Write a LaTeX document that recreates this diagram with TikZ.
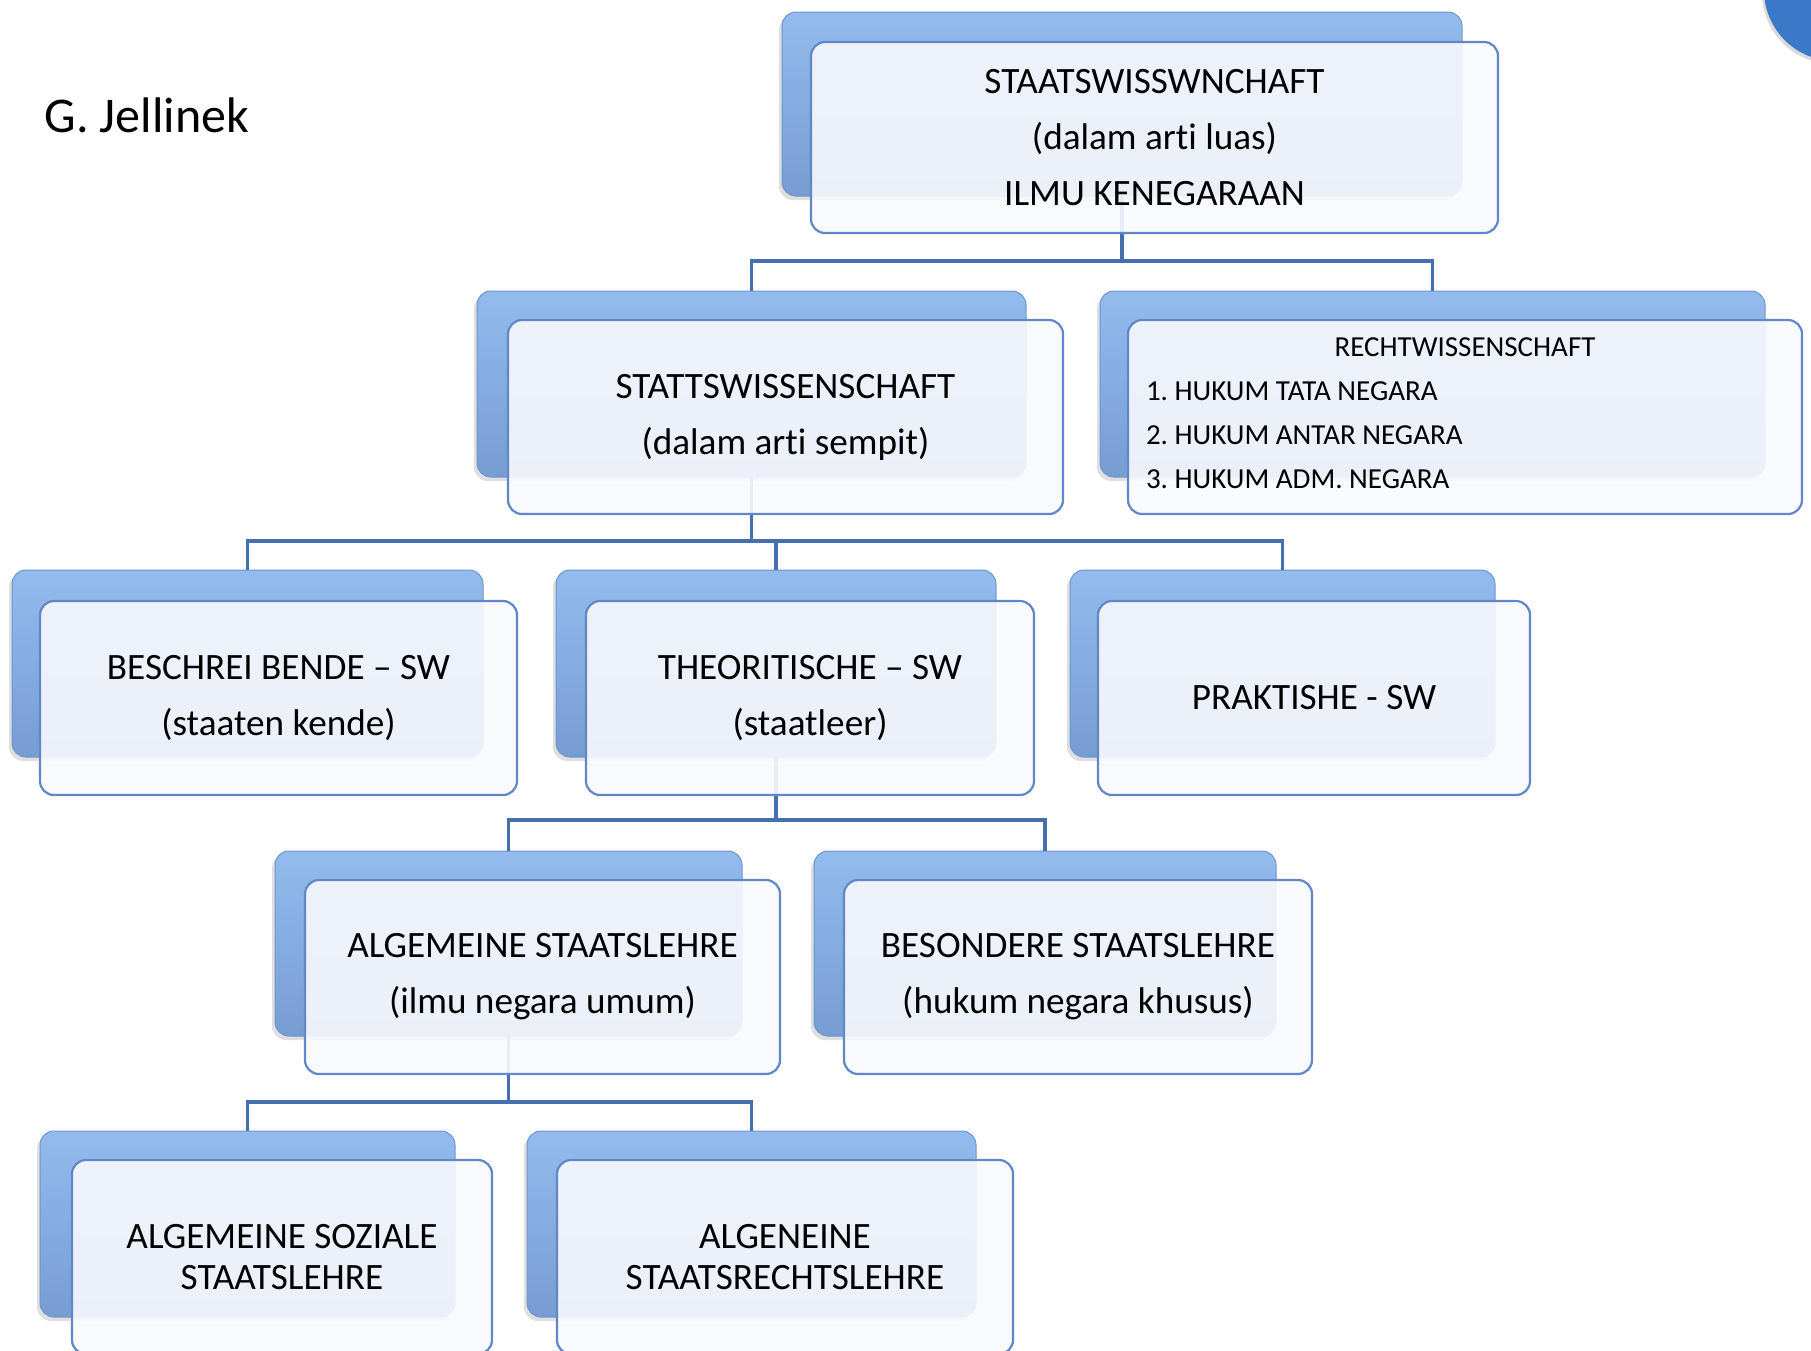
\documentclass[tikz,border=0pt]{standalone}
\usepackage{fontspec}
\setmainfont{Carlito}[Ligatures=NoCommon]
\usetikzlibrary{shadows}
\definecolor{backtop}{HTML}{93BBEE}
\definecolor{backbot}{HTML}{779CD2}
\definecolor{backline}{HTML}{6E95CD}
\definecolor{frontfill}{HTML}{F8F9FD}
\definecolor{frontline}{HTML}{6088C8}
\definecolor{connline}{HTML}{4470B0}
\definecolor{dotblue}{HTML}{3C78C8}
\tikzset{
  backbox/.style={rectangle,rounded corners=14pt,inner sep=0pt,outer sep=0pt,top color=backtop,bottom color=backbot,draw=backline,line width=1pt,drop shadow={shadow xshift=-3pt,shadow yshift=-4pt,opacity=0.25}},
  frontbox/.style={rectangle,rounded corners=14pt,inner sep=0pt,outer sep=0pt,draw=frontline,line width=2.2pt,fill=frontfill,fill opacity=0.9,text opacity=1,align=center,font=\fontsize{37.2}{56}\selectfont},
  conn/.style={draw=connline,line width=3.5pt}
}
\frenchspacing
\begin{document}
\begin{tikzpicture}[x=1pt,y=-1pt]
        \useasboundingbox (0,0) rectangle (1811,1350);
        \clip (0,0) rectangle (1811,1350);
        \fill[dotblue,drop shadow={shadow xshift=-2pt,shadow yshift=-3pt,opacity=0.3}] (1835,-10) circle (71);
        \node[anchor=base west,font=\fontsize{50}{60}\selectfont] (author) at (41,132) {G. Jellinek};
        \node[backbox,minimum width=680pt,minimum height=184pt] (topb) at (1122,104) {};
        \node[backbox,minimum width=549pt,minimum height=186pt] (l2ab) at (751.5,384) {};
        \node[backbox,minimum width=665pt,minimum height=186pt] (l2bb) at (1432.5,384) {};
        \node[backbox,minimum width=471pt,minimum height=187pt] (l3ab) at (247.5,663.5) {};
        \node[backbox,minimum width=440pt,minimum height=187pt] (l3bb) at (776,663.5) {};
        \node[backbox,minimum width=425pt,minimum height=187pt] (l3cb) at (1282.5,663.5) {};
        \node[backbox,minimum width=467pt,minimum height=185pt] (l4ab) at (508.5,943.5) {};
        \node[backbox,minimum width=462pt,minimum height=185pt] (l4bb) at (1045,943.5) {};
        \node[backbox,minimum width=415pt,minimum height=186pt] (l5ab) at (247.5,1224) {};
        \node[backbox,minimum width=449pt,minimum height=186pt] (l5bb) at (751.5,1224) {};
        \coordinate (j1) at (topb.south |- 0,261);
        \coordinate (j2) at (l2ab.south |- 0,541);
        \coordinate (j3) at (l3bb.south |- 0,820);
        \coordinate (j4) at (l4ab.south |- 0,1102);
        \draw[conn] (topb.south) -- (j1) -| (l2ab.north) (j1) -| (l2bb.north);
        \draw[conn] (l2ab.south) -- (j2) -| (l3ab.north) (j2) -| (l3bb.north) (j2) -| (l3cb.north);
        \draw[conn] (l3bb.south) -- (j3) -| (l4ab.north) (j3) -| (l4bb.north);
        \draw[conn] (l4ab.south) -- (j4) -| (l5ab.north) (j4) -| (l5bb.north);
        \node[frontbox,minimum width=687pt,minimum height=191pt] (top) at (1154.5,137.5) {STAATSWISSWNCHAFT\\(dalam arti luas)\\ILMU KENEGARAAN};
        \node[frontbox,minimum width=555pt,minimum height=194pt] (l2a) at (785.5,417) {STATTSWISSENSCHAFT\\(dalam arti sempit)};
        \node[frontbox,minimum width=674pt,minimum height=194pt,text width=638pt,align=flush left,font=\fontsize{29}{44}\selectfont] (l2b) at (1465,417) {{\centering RECHTWISSENSCHAFT\par}1. HUKUM TATA NEGARA\\2. HUKUM ANTAR NEGARA\\3. HUKUM ADM. NEGARA\vspace{7pt}};
        \node[frontbox,minimum width=477pt,minimum height=194pt] (l3a) at (278.5,698) {BESCHREI BENDE – SW\\(staaten kende)};
        \node[frontbox,minimum width=448pt,minimum height=194pt] (l3b) at (810,698) {THEORITISCHE – SW\\(staatleer)};
        \node[frontbox,minimum width=432pt,minimum height=194pt] (l3c) at (1314,698) {PRAKTISHE - SW};
        \node[frontbox,minimum width=475pt,minimum height=194pt] (l4a) at (542.5,977) {ALGEMEINE STAATSLEHRE\\(ilmu negara umum)};
        \node[frontbox,minimum width=468pt,minimum height=194pt] (l4b) at (1078,977) {BESONDERE STAATSLEHRE\\(hukum negara khusus)};
        \node[frontbox,minimum width=420pt,minimum height=194pt,font=\fontsize{37.2}{41}\selectfont] (l5a) at (282,1257) {ALGEMEINE SOZIALE\\STAATSLEHRE};
        \node[frontbox,minimum width=456pt,minimum height=194pt,font=\fontsize{37.2}{41}\selectfont] (l5b) at (785,1257) {ALGENEINE\\STAATSRECHTSLEHRE};
      \end{tikzpicture}
\end{document}
